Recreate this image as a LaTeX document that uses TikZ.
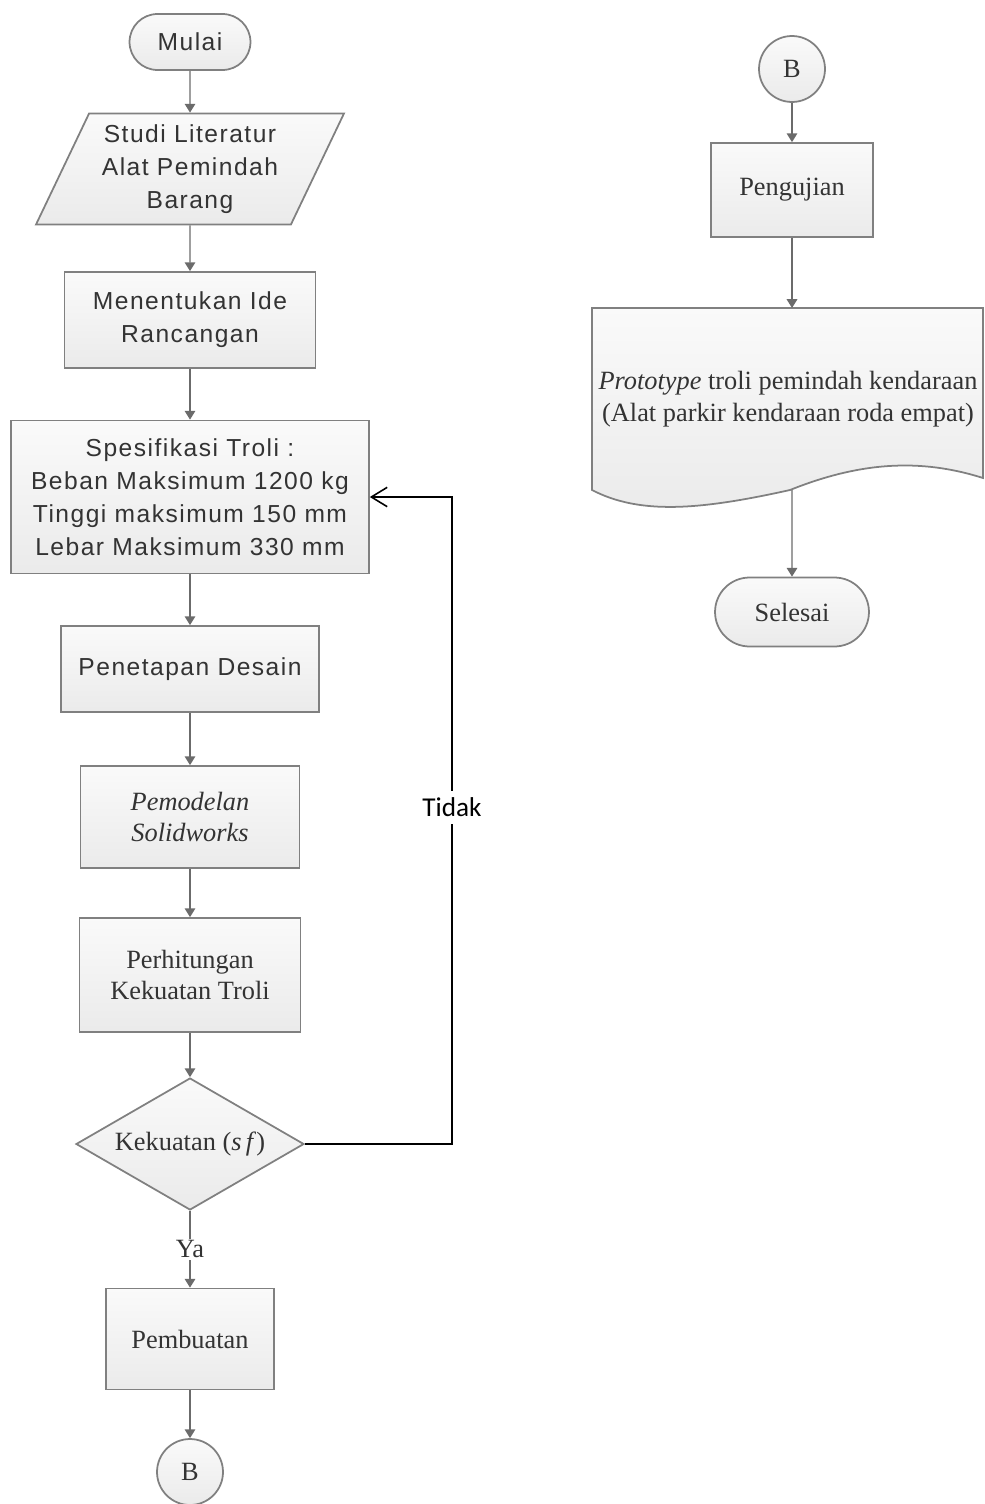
\documentclass[tikz,border=0pt]{standalone}
\usepackage{fontspec}
\setmainfont{Liberation Serif}
\newfontfamily\arialfont[LetterSpace=6]{Liberation Sans}
\newfontfamily\calibrifont{Carlito}
\usetikzlibrary{shapes.geometric,shapes.misc,arrows.meta}
\tikzset{
  box/.style={draw=black!50, line width=1pt, top color=black!2, bottom color=black!8, text=black!80, align=center, inner sep=2pt},
  proses/.style={box, rectangle},
  mulaiselesai/.style={box, rounded rectangle},
  masukan/.style={box, trapezium, trapezium left angle=61, trapezium right angle=119, trapezium stretches body},
  keputusan/.style={box, diamond, aspect=1.73, inner sep=0pt},
  penghubung/.style={box, circle, inner sep=0pt},
  sansteks/.style={font=\arialfont\fontsize{14}{18.7}\selectfont},
  serifteks/.style={font=\fontsize{15}{18}\selectfont},
  alur/.style={draw=black!58, line width=0.8pt, -{Triangle[length=5pt,width=6pt]}},
  balik/.style={draw=black, line width=0.9pt, -{Straight Barb[length=9pt,width=11pt,line width=0.9pt]}}
}
\begin{document}
\begin{tikzpicture}[x=0.02cm, y=-0.02cm]
    \useasboundingbox (0,0) rectangle (984,1504);
    %left column
    \node[mulaiselesai, sansteks, minimum width=2.56cm, minimum height=1.12cm] (mulai) at (190,42) {Mulai};
    \node[masukan, sansteks, minimum width=6.16cm, minimum height=2.22cm] (studi) at (190,169) {Studi Literatur\\Alat Pemindah\\Barang};
    \node[proses, sansteks, minimum width=5.02cm, minimum height=1.92cm] (ide) at (190,320) {Menentukan Ide\\Rancangan};
    \node[proses, sansteks, minimum width=7.16cm, minimum height=3.06cm] (spek) at (190,497) {Spesifikasi Troli :\\Beban Maksimum 1200 kg\\Tinggi maksimum 150 mm\\Lebar Maksimum 330 mm};
    \node[proses, sansteks, minimum width=5.16cm, minimum height=1.72cm] (desain) at (190,669) {Penetapan Desain};
    \node[proses, serifteks, minimum width=4.38cm, minimum height=2.04cm] (model) at (190,817) {\textit{Pemodelan}\\\textit{Solidworks}};
    \node[proses, serifteks, minimum width=4.42cm, minimum height=2.28cm] (hitung) at (190,975) {Perhitungan\\Kekuatan Troli};
    \node[keputusan, serifteks, minimum width=4.56cm, minimum height=2.64cm] (cek) at (190,1144) {Kekuatan (\textit{s\,f})};
    \node[proses, serifteks, minimum width=3.36cm, minimum height=2.02cm] (buat) at (190,1339) {Pembuatan};
    \node[penghubung, serifteks, minimum size=1.32cm] (bkiri) at (190,1472) {B};
    \coordinate (sudut) at (452,1144);
    %right column
    \node[penghubung, serifteks, minimum size=1.32cm] (bkanan) at (792,69) {B};
    \node[proses, serifteks, minimum width=3.24cm, minimum height=1.88cm] (uji) at (792,190) {Pengujian};
    \draw[box] (592,308) -- (983,308) -- (983,478) .. controls (920,458) and (860,462) .. (790,490) .. controls (700,510) and (640,515) .. (592,490) -- cycle;
    \node[serifteks, text=black!80, align=center] (dokumen) at (788,399) {\textit{Prototype} troli pemindah kendaraan\\(Alat parkir kendaraan roda empat)};
    \coordinate (dokatas) at (792,308);
    \coordinate (dokbawah) at (792,490);
    \node[mulaiselesai, serifteks, minimum width=3.22cm, minimum height=1.38cm] (selesai) at (792,612) {Selesai};
    %draw lines
    \draw[alur] (mulai) -- (studi);
    \draw[alur] (studi) -- (ide);
    \draw[alur] (ide) -- (spek);
    \draw[alur] (spek) -- (desain);
    \draw[alur] (desain) -- (model);
    \draw[alur] (model) -- (hitung);
    \draw[alur] (hitung) -- (cek);
    \draw[alur] (cek) -- node[fill=white, serifteks, text=black!80, inner sep=1pt]{Ya} (buat);
    \draw[alur] (buat) -- (bkiri);
    \draw[balik] (cek.east) -- (sudut) |- node[pos=0.26, fill=white, font=\calibrifont\fontsize{15.5}{18}\selectfont, inner sep=4pt]{Tidak} (spek.east);
    \draw[alur] (bkanan) -- (uji);
    \draw[alur] (uji) -- (dokatas);
    \draw[alur] (dokbawah) -- (selesai);
\end{tikzpicture}
\end{document}
